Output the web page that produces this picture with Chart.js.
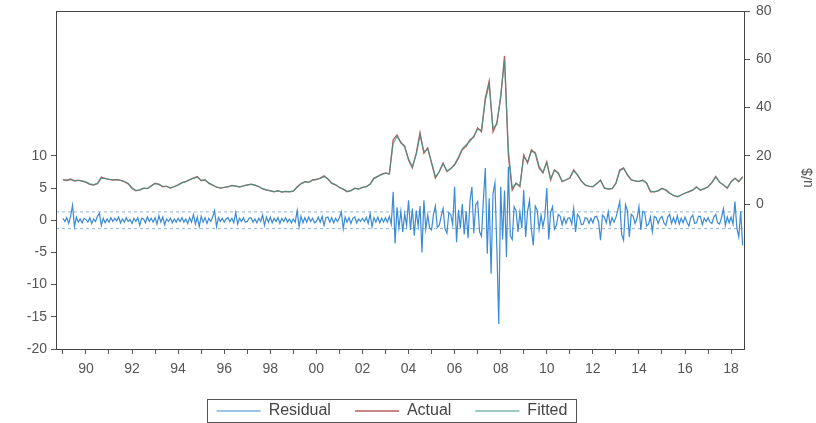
<!DOCTYPE html>
<html>
<head>
<meta charset="utf-8">
<script src="https://cdn.jsdelivr.net/npm/chart.js@4"></script>
<style>
  body { margin: 0; background: #fff; }
  #wrap { width: 816px; height: 423px; }
</style>
</head>
<body>
<div id="wrap"><canvas id="residChart"></canvas></div>
<script>
const startYear = 1989;

// actual / fitted: bimonthly, right axis (u/$)
const fitObsPerYear = 6;
const actual = [
  10.2, 9.8, 10.4, 9.6, 9.9, 9.5,
  9.0, 8.2, 7.9, 8.6, 11.2, 10.6,
  10.3, 10.0, 10.2, 9.8, 9.3, 8.4,
  6.5, 5.5, 5.9, 6.6, 6.4, 7.6,
  8.7, 8.2, 7.2, 7.4, 6.6, 7.3,
  8.0, 8.9, 9.3, 10.2, 10.8, 11.4,
  9.7, 10.1, 8.6, 7.9, 7.0, 6.6,
  6.9, 7.2, 7.8, 7.5, 7.1, 7.6,
  8.0, 8.3, 7.9, 7.2, 6.3, 5.8,
  5.5, 5.1, 5.6, 5.0, 5.3, 5.1,
  5.4, 7.2, 8.5, 9.3, 9.0, 10.0,
  10.2, 10.8, 11.7, 10.4, 8.6, 8.0,
  6.9, 6.2, 5.1, 5.6, 6.6, 6.2,
  6.9, 7.2, 8.3, 10.8, 11.5, 12.4,
  12.9, 12.5, 26.7, 28.7, 25.4, 24.0,
  18.3, 15.0, 21.0, 29.6, 21.0, 23.3,
  17.0, 10.8, 13.5, 17.0, 13.5, 14.8,
  16.3, 19.0, 22.5, 23.9, 26.7, 27.8,
  31.6, 30.0, 44.0, 51.0, 30.0, 33.7,
  44.0, 61.4, 20.0, 5.8, 8.7, 7.2,
  20.4, 17.0, 22.5, 21.0, 15.0, 12.9,
  17.6, 10.0, 14.2, 12.9, 9.3, 10.0,
  10.8, 14.2, 12.0, 9.5, 7.9, 7.4,
  7.2, 8.5, 10.0, 6.6, 6.2, 6.4,
  8.7, 14.2, 15.0, 12.0, 10.0, 9.6,
  9.3, 10.0, 8.7, 5.1, 5.1, 5.5,
  6.6, 5.8, 4.5, 3.6, 3.0, 3.8,
  4.5, 5.2, 5.8, 7.2, 5.8, 6.4,
  7.2, 9.0, 11.5, 9.0, 7.9, 6.6,
  9.3, 10.8, 9.3, 11.4
];

const fitted = [
  10.0, 10.0, 10.1, 9.8, 9.8, 9.6,
  9.2, 8.4, 8.1, 8.5, 10.8, 10.7,
  10.3, 10.1, 10.1, 9.9, 9.4, 8.6,
  6.8, 5.7, 5.8, 6.5, 6.5, 7.4,
  8.5, 8.3, 7.4, 7.3, 6.8, 7.2,
  7.9, 8.8, 9.3, 10.0, 10.8, 11.1,
  9.9, 10.0, 8.8, 7.9, 7.1, 6.7,
  6.9, 7.2, 7.7, 7.5, 7.2, 7.5,
  7.9, 8.2, 7.9, 7.3, 6.4, 5.9,
  5.6, 5.2, 5.5, 5.1, 5.3, 5.2,
  5.4, 7.0, 8.4, 9.2, 9.1, 9.9,
  10.3, 10.7, 11.4, 10.5, 8.8, 8.0,
  7.0, 6.3, 5.3, 5.6, 6.5, 6.3,
  6.9, 7.2, 8.2, 10.5, 11.5, 12.2,
  12.8, 12.6, 25.0, 28.0, 25.8, 23.6,
  18.8, 15.6, 20.5, 28.5, 21.8, 22.8,
  17.4, 11.4, 13.3, 16.6, 13.8, 14.6,
  16.5, 19.5, 23.0, 24.6, 26.0, 28.3,
  31.0, 30.8, 43.0, 49.5, 31.5, 33.0,
  45.0, 59.5, 22.5, 6.8, 8.5, 7.6,
  19.5, 17.6, 21.8, 21.5, 15.8, 13.2,
  17.0, 10.6, 14.0, 12.7, 9.6, 10.1,
  10.9, 13.8, 12.2, 9.7, 8.0, 7.5,
  7.3, 8.4, 9.8, 6.8, 6.3, 6.4,
  8.5, 13.7, 14.8, 12.3, 10.1, 9.6,
  9.4, 9.8, 8.8, 5.4, 5.2, 5.5,
  6.4, 5.9, 4.6, 3.7, 3.1, 3.8,
  4.6, 5.1, 5.8, 7.0, 5.9, 6.3,
  7.2, 8.8, 11.2, 9.2, 7.9, 6.8,
  9.1, 10.6, 9.5, 11.0
];

// residual: monthly, left axis
const residObsPerYear = 12;
const residual = [
  0.3, -0.2, 0.4, -0.5, 0.6, 2.3, -1.0, 0.5, -0.3, 0.2, -0.4, 0.3,
  0.1, -0.3, 0.4, -0.5, 0.2, -0.2, 0.6, 1.1, -0.8, 0.3, -0.4, 0.2,
  -0.3, 0.4, -0.2, 0.3, -0.1, 0.5, -0.4, 0.2, -0.3, 0.4, -0.2, 0.1,
  -0.5, 0.3, -0.2, 0.4, -0.8, 0.3, 0.2, -0.4, 0.5, -0.2, 0.3, -0.3,
  0.4, -0.6, 0.7, -0.3, 0.5, -0.7, 0.2, -0.2, 0.3, -0.4, 0.2, -0.3,
  0.3, -0.2, 0.4, -0.3, 0.2, -0.5, 0.4, -0.3, 0.9, -0.6, 0.5, -1.0,
  0.6, -0.3, 0.4, -0.5, 0.3, -0.2, 0.5, 1.5, -1.0, 0.4, -0.2, 0.3,
  -0.3, 0.2, 0.4, -0.2, 0.3, -0.4, 1.2, -0.6, 0.3, -0.2, 0.4, -0.3,
  -0.2, 0.3, 0.4, -0.3, 0.2, -0.4, 0.3, -0.2, 0.8, -0.8, 0.5, -0.3,
  0.5, -0.4, 0.3, -0.2, 0.4, -0.5, 0.3, -0.2, 0.4, -0.3, 0.2, -0.4,
  0.2, -0.3, 1.5, -1.0, 0.6, -0.4, 0.4, -0.3, 0.5, -0.2, 0.3, -0.4,
  -0.2, 0.5, -0.3, 0.6, -0.8, 0.4, 0.5, -0.3, 0.4, -0.4, 0.3, -0.2,
  0.4, 1.3, -1.3, 0.5, -0.3, 0.4, -0.5, 0.3, 0.5, -0.4, 0.2, -0.2,
  0.3, -0.2, 0.4, -0.5, 1.0, -1.0, 0.4, -0.3, 0.5, -0.4, 0.3, -0.3,
  0.4, -0.3, 0.6, -0.6, 4.4, -3.6, 2.0, -1.2, 1.4, -1.8, 1.0, -0.8,
  3.1, -1.5, 1.8, -2.4, 1.5, -0.9, 2.2, -5.0, 3.1, -1.4, 0.8, -1.2,
  -1.5, 0.9, 2.2, -1.1, -0.8, 0.6, 1.8, -1.3, -2.0, 1.2, 0.9, -0.7,
  5.2, -3.4, 1.6, -1.2, 2.5, -2.2, 1.4, -2.8, 3.0, 5.2, -2.0, 2.4,
  2.9, -1.8, -2.5, 3.2, 8.1, -5.2, 3.4, -8.3, 4.1, 5.8, -4.4, -16.1,
  5.2, -3.0, 4.6, -5.7, 8.3, -2.4, -3.0, 2.1, 1.5, -1.8, 1.2, -1.2,
  4.7, -2.6, 1.4, 3.1, -1.5, -3.9, 2.2, 1.6, -1.4, 0.8, -1.0, 0.6,
  5.0, -3.0, 1.2, 2.1, -1.4, -0.8, 0.9, 0.6, -0.7, 0.4, -0.5, 0.3,
  0.4, -0.6, 1.8, -1.8, 0.9, 0.5, -0.7, -0.6, 0.4, 0.3, -0.5, 0.3,
  -0.4, 0.5, 0.6, -0.3, -3.1, 0.8, 0.5, -0.4, 1.3, -0.7, 0.4, -0.3,
  0.4, 1.6, 2.9, -2.2, -3.1, 2.4, 1.5, -2.6, 0.9, 0.6, -0.5, 0.3,
  2.1, -1.5, 1.4, 1.2, -0.9, -0.6, 0.5, -1.8, 0.6, 0.4, -0.5, 0.3,
  0.6, -0.4, -0.8, 0.5, 0.9, -0.5, 0.4, -0.5, 0.7, -0.6, 0.3, -0.4,
  0.5, -0.3, -0.9, 0.4, 0.8, -0.5, -0.4, 0.6, 0.6, -0.7, 0.3, -0.2,
  0.4, -0.3, -0.5, 0.5, 0.9, -0.4, -0.6, 0.4, 1.8, -0.8, 0.5, -0.4,
  0.5, -0.6, 2.9, -1.2, -2.6, 1.4, -3.9
];
const residualSE = 1.3;

const tickYears = [1989, 1990, 1991, 1992, 1993, 1994, 1995, 1996, 1997, 1998, 1999,
  2000, 2001, 2002, 2003, 2004, 2005, 2006, 2007, 2008, 2009, 2010, 2011, 2012,
  2013, 2014, 2015, 2016, 2017, 2018];
const leftTicks = [-20, -15, -10, -5, 0, 5, 10];
const rightTicks = [0, 20, 40, 60, 80];

const xMin = 1988.7, xMax = 2018.56;
const FONT = "'Liberation Sans', Arial, sans-serif";

function toPoints(arr, perYear) {
  return arr.map((v, i) => ({ x: startYear + i / perYear, y: v }));
}

function bandLine(v) {
  return [{ x: xMin, y: v }, { x: xMax, y: v }];
}

// frame round the plot, box round the legend, right axis title
const framePlugin = {
  id: "frame",
  afterDraw(chart) {
    const ctx = chart.ctx;
    const a = chart.chartArea;
    ctx.save();
    ctx.strokeStyle = "#444";
    ctx.lineWidth = 1;
    ctx.strokeRect(a.left + 0.5, a.top + 0.5, a.right - a.left, a.bottom - a.top);

    const boxes = chart.legend.legendHitBoxes;
    if (boxes && boxes.length) {
      const l = Math.min(...boxes.map(b => b.left)) - 10;
      const r = Math.max(...boxes.map(b => b.left + b.width)) + 8;
      const t = boxes[0].top - 4;
      const h = boxes[0].height + 7;
      ctx.strokeStyle = "#555";
      ctx.strokeRect(Math.round(l) + 0.5, Math.round(t) + 0.5, Math.round(r - l), Math.round(h));
    }

    ctx.fillStyle = "#555";
    ctx.font = "14px " + FONT;
    ctx.translate(808, 178);
    ctx.rotate(-Math.PI / 2);
    ctx.textAlign = "center";
    ctx.textBaseline = "middle";
    ctx.fillText("u/$", 0, 0);
    ctx.restore();
  }
};

const residColor = "#3a8ad6";
const actualColor = "#b85c5c";
const fittedColor = "rgba(60,150,135,0.8)";

const ctx = document.getElementById("residChart").getContext("2d");

new Chart(ctx, {
  type: "line",
  data: {
    datasets: [
      {
        label: "Residual",
        data: toPoints(residual, residObsPerYear),
        yAxisID: "yL",
        borderColor: residColor,
        backgroundColor: residColor,
        pointBorderColor: residColor,
        borderWidth: 1.2,
        order: 3
      },
      {
        label: "Actual",
        data: toPoints(actual, fitObsPerYear),
        yAxisID: "yR",
        borderColor: actualColor,
        backgroundColor: actualColor,
        pointBorderColor: actualColor,
        borderWidth: 1.3,
        order: 2
      },
      {
        label: "Fitted",
        data: toPoints(fitted, fitObsPerYear),
        yAxisID: "yR",
        borderColor: fittedColor,
        backgroundColor: fittedColor,
        pointBorderColor: "#3c9687",
        borderWidth: 1.2,
        order: 1
      },
      {
        label: "+se",
        data: bandLine(residualSE),
        yAxisID: "yL",
        borderColor: "rgba(120,160,200,0.8)",
        borderWidth: 1,
        borderDash: [3, 3],
        order: 4
      },
      {
        label: "-se",
        data: bandLine(-residualSE),
        yAxisID: "yL",
        borderColor: "rgba(120,160,200,0.8)",
        borderWidth: 1,
        borderDash: [3, 3],
        order: 4
      }
    ]
  },
  options: {
    responsive: true,
    maintainAspectRatio: false,
    animation: false,
    parsing: false,
    elements: { point: { radius: 0 }, line: { tension: 0 } },
    layout: { padding: { top: 11, right: 32, left: 0, bottom: -6 } },
    plugins: {
      tooltip: { enabled: false },
      legend: {
        position: "bottom",
        labels: {
          usePointStyle: true,
          pointStyle: "line",
          pointStyleWidth: 44,
          padding: 24,
          color: "#444",
          font: { size: 16, family: FONT },
          filter: item => item.datasetIndex < 3,
          sort: (a, b) => a.datasetIndex - b.datasetIndex
        }
      }
    },
    scales: {
      x: {
        type: "linear",
        min: xMin,
        max: xMax,
        afterBuildTicks: s => { s.ticks = tickYears.map(v => ({ value: v })); },
        afterFit: s => { s.height = 30; },
        grid: { drawOnChartArea: false, tickLength: 5, color: "#555" },
        border: { color: "#444" },
        ticks: {
          autoSkip: false,
          maxRotation: 0,
          padding: 7,
          color: "#555",
          font: { size: 14, family: FONT },
          callback: v => (v % 2 === 0 ? String(v).slice(2) : "")
        }
      },
      yL: {
        type: "linear",
        position: "left",
        min: -20,
        max: 32.5,
        afterBuildTicks: s => { s.ticks = leftTicks.map(v => ({ value: v })); },
        afterFit: s => { s.width = 56; s.paddingTop = 2; },
        grid: { drawOnChartArea: false, tickLength: 5, color: "#555" },
        border: { color: "#444" },
        ticks: { color: "#555", padding: 4, font: { size: 14, family: FONT } }
      },
      yR: {
        type: "linear",
        position: "right",
        min: -60,
        max: 80,
        afterBuildTicks: s => { s.ticks = rightTicks.map(v => ({ value: v })); },
        afterFit: s => { s.width = 40; s.paddingTop = 2; },
        grid: { drawOnChartArea: false, tickLength: 6, color: "#555" },
        border: { color: "#444" },
        ticks: { color: "#555", padding: 6, font: { size: 14, family: FONT } }
      }
    }
  },
  plugins: [framePlugin]
});
</script>
</body>
</html>
